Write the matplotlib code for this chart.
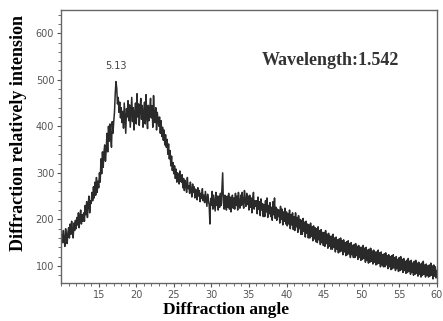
import numpy as np
import matplotlib.pyplot as plt
from matplotlib.ticker import MultipleLocator

# diffraction angle, 0.1 deg steps from 10 to 60
angle_start = 10.0
angle_step = 0.1
intensity = [
    145, 168, 150, 176, 155, 142, 180, 160, 148, 172,   # 10
    182, 160, 190, 168, 196, 172, 160, 192, 176, 198,   # 11
    180, 204, 188, 214, 182, 206, 220, 190, 210, 196,   # 12
    214, 196, 230, 210, 238, 204, 232, 250, 214, 240,   # 13
    234, 258, 240, 270, 246, 280, 252, 290, 258, 282,   # 14
    268, 300, 280, 330, 298, 345, 312, 345, 360, 325,   # 15
    350, 385, 345, 400, 368, 405, 375, 355, 410, 385,   # 16
    410, 430, 470, 496, 482, 448, 462, 430, 452, 418,   # 17
    440, 408, 432, 396, 450, 418, 385, 438, 420, 455,   # 18
    412, 446, 398, 432, 462, 410, 440, 392, 428, 450,   # 19
    405, 470, 420, 448, 402, 438, 460, 415, 445, 398,   # 20
    430, 452, 405, 468, 420, 395, 445, 412, 438, 460,   # 21
    418, 444, 398, 466, 425, 408, 440, 392, 430, 415,   # 22
    400, 420, 385, 412, 378, 398, 370, 392, 360, 382,   # 23
    355, 372, 340, 362, 330, 348, 315, 336, 305, 322,   # 24
    298, 315, 288, 308, 280, 300, 292, 276, 304, 285,   # 25
    280, 296, 268, 288, 262, 284, 275, 258, 290, 266,   # 26
    272, 256, 280, 262, 248, 276, 258, 270, 246, 265,   # 27
    258, 242, 268, 250, 262, 238, 256, 245, 266, 240,   # 28
    252, 236, 260, 244, 228, 254, 240, 232, 190, 245,   # 29
    230, 260, 222, 252, 236, 218, 258, 230, 250, 220,   # 30
    250, 226, 256, 230, 266, 300, 236, 222, 252, 230,   # 31
    220, 250, 226, 256, 222, 248, 216, 244, 252, 224,   # 32
    246, 222, 256, 230, 250, 220, 258, 232, 224, 252,   # 33
    230, 258, 236, 224, 262, 238, 228, 256, 232, 250,   # 34
    220, 252, 226, 246, 214, 244, 258, 222, 240, 228,   # 35
    240, 212, 248, 222, 238, 208, 244, 220, 234, 206,   # 36
    232, 206, 240, 216, 246, 204, 230, 212, 236, 206,   # 37
    226, 198, 238, 210, 246, 202, 226, 198, 222, 206,   # 38
    220, 192, 228, 200, 222, 188, 216, 196, 224, 190,   # 39
    216, 186, 212, 190, 220, 180, 210, 188, 214, 178,   # 40
    206, 176, 214, 184, 204, 172, 208, 180, 200, 168,   # 41
    198, 168, 202, 174, 194, 162, 196, 170, 190, 160,   # 42
    188, 160, 192, 164, 184, 154, 186, 158, 182, 152,   # 43
    180, 150, 184, 156, 176, 146, 178, 150, 172, 144,   # 44
    172, 142, 176, 148, 168, 138, 170, 142, 164, 136,   # 45
    164, 136, 168, 140, 160, 130, 162, 136, 156, 128,   # 46
    158, 130, 160, 132, 154, 124, 156, 130, 150, 122,   # 47
    152, 124, 154, 126, 148, 118, 150, 124, 144, 118,   # 48
    146, 118, 148, 122, 142, 114, 144, 118, 140, 112,   # 49
    140, 114, 144, 116, 138, 108, 140, 112, 134, 106,   # 50
    136, 108, 138, 110, 132, 104, 134, 108, 130, 102,   # 51
    130, 104, 134, 106, 128, 98, 130, 102, 124, 98,     # 52
    126, 98, 128, 102, 122, 94, 124, 98, 120, 92,       # 53
    122, 94, 124, 96, 118, 90, 120, 94, 114, 88,        # 54
    118, 90, 120, 92, 114, 86, 116, 90, 110, 84,        # 55
    112, 86, 116, 88, 110, 82, 112, 86, 106, 80,        # 56
    110, 82, 112, 84, 106, 78, 108, 82, 104, 76,        # 57
    106, 80, 110, 82, 102, 76, 104, 80, 100, 76,        # 58
    102, 78, 106, 80, 100, 72, 102, 78, 98, 74,         # 59
    90,                                                 # 60
]
angle = angle_start + angle_step * np.arange(len(intensity))

peak_label = '5.13'
peak_angle = 17.3
peak_value = 496

fig = plt.figure(figsize=(4.43, 3.21), dpi=100)
ax = fig.add_axes([0.138, 0.118, 0.848, 0.851])

ax.plot(angle, intensity, color='#2a2a2a', lw=1.1)

ax.set_xlim(10, 60)
ax.set_ylim(63, 650)
ax.xaxis.set_minor_locator(MultipleLocator(1))
ax.yaxis.set_minor_locator(MultipleLocator(20))
ax.set_xticks([15, 20, 25, 30, 35, 40, 45, 50, 55, 60])
ax.set_yticks([100, 200, 300, 400, 500, 600])

ax.tick_params(which='both', direction='out', colors='#555555', labelsize=7,
               top=False, right=False)
ax.tick_params(which='major', length=3, width=0.8, pad=2)
ax.tick_params(which='minor', length=2, width=0.6)
for s in ax.spines.values():
    s.set_color('#666666')
    s.set_linewidth(1.0)

ax.set_xlabel('Diffraction angle', fontfamily='Liberation Serif',
              fontweight='bold', fontsize=12.5)
ax.xaxis.set_label_coords(0.44, -0.07)
ax.set_ylabel('Diffraction relatively intension', fontfamily='Liberation Serif',
              fontweight='bold', fontsize=13)
ax.yaxis.set_label_coords(-0.092, 0.55)

ax.annotate(peak_label, (peak_angle, peak_value), xytext=(0, 8),
            textcoords='offset points', ha='center', va='bottom',
            fontsize=7, color='#444444')
ax.text(0.535, 0.80, 'Wavelength:1.542', transform=ax.transAxes,
        fontfamily='Liberation Serif', fontweight='bold', fontsize=13,
        color='#333333')

fig.savefig('out.png', dpi=100)
